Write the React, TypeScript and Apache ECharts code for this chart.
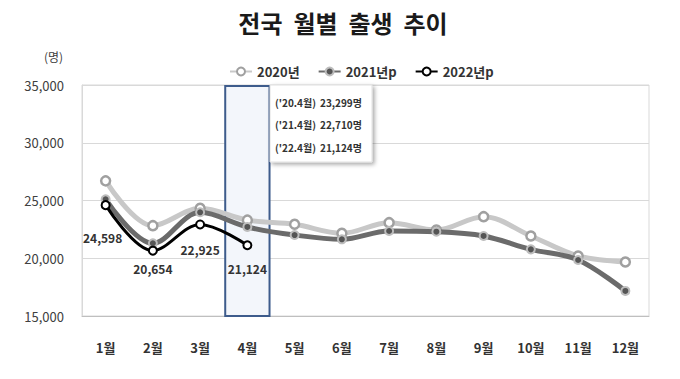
import React, { useEffect, useRef } from "react";
import * as echarts from "echarts";

const months = ["1월", "2월", "3월", "4월", "5월", "6월", "7월", "8월", "9월", "10월", "11월", "12월"];
const births2020 = [26700, 22820, 24320, 23299, 22940, 22160, 23080, 22450, 23600, 21930, 20200, 19680];
const births2021 = [25100, 21290, 23980, 22710, 22010, 21640, 22360, 22300, 21930, 20770, 19850, 17170];
const births2022 = [24598, 20654, 22925, 21124];
const highlight = [null, null, null, 35000, null, null, null, null, null, null, null, null];
const labelOffsets = [[-3, 16], [0, 2], [0, 9], [0, 7]];
const noteLabels = ["('20.4월)", "('21.4월)", "('22.4월)"];
const noteValues = ["23,299명", "22,710명", "21,124명"];

const FONT = "'Noto Sans CJK KR', 'Noto Sans', sans-serif";

export default function App() {
  const ref = useRef<HTMLDivElement>(null);
  useEffect(() => {
    if (!ref.current) return;
    const chart = echarts.init(ref.current, undefined, { renderer: "svg" });
    const noteTexts: any[] = [];
    noteLabels.forEach((l, i) => {
      noteTexts.push({
        type: "text",
        z: 110,
        x: 275,
        y: 102 + i * 22.5,
        style: { text: l, font: `bold 10px ${FONT}`, fill: "#333", verticalAlign: "middle" },
      });
      noteTexts.push({
        type: "text",
        z: 110,
        x: 320,
        y: 102 + i * 22.5,
        style: { text: noteValues[i], font: `bold 10px ${FONT}`, fill: "#333", verticalAlign: "middle" },
      });
    });
    chart.setOption({
      animation: false,
      textStyle: { fontFamily: FONT },
      title: {
        text: "전국  월별  출생  추이",
        left: 338,
        textAlign: "center",
        top: 5,
        textStyle: { fontSize: 24, fontWeight: "bold", color: "#1a1a1a", fontFamily: FONT },
      },
      legend: {
        data: ["2020년", "2021년p", "2022년p"],
        top: 60,
        left: 224,
        itemWidth: 22,
        itemHeight: 10,
        itemGap: 18,
        textStyle: { fontSize: 13, fontWeight: "bold", color: "#333" },
      },
      grid: {
        left: 82,
        right: 31,
        top: 85,
        bottom: 63,
        show: true,
        borderColor: "#d9d9d9",
        borderWidth: 1,
      },
      xAxis: {
        type: "category",
        data: months,
        boundaryGap: true,
        axisLine: { lineStyle: { color: "#bfbfbf" } },
        axisTick: { alignWithLabel: true, length: 4, lineStyle: { color: "#bfbfbf" } },
        axisLabel: { fontSize: 13, color: "#333", margin: 25, fontWeight: "bold" },
      },
      yAxis: {
        type: "value",
        min: 15000,
        max: 35000,
        interval: 5000,
        axisLine: { show: true, lineStyle: { color: "#d9d9d9" } },
        axisTick: { show: false },
        splitLine: { lineStyle: { color: "#d9d9d9" } },
        axisLabel: {
          fontSize: 13,
          color: "#404040",
          margin: 18,
          formatter: (v: number) => v.toLocaleString("en-US"),
        },
      },
      graphic: [
        {
          type: "text",
          left: 44,
          top: 50,
          style: { text: "(명)", font: `12px ${FONT}`, fill: "#404040" },
        },
        {
          type: "rect",
          z: 100,
          shape: { x: 270, y: 85, width: 102, height: 77 },
          style: {
            fill: "#fff",
            stroke: "#e0e0e0",
            lineWidth: 1,
            shadowBlur: 4,
            shadowOffsetX: 2,
            shadowOffsetY: 2,
            shadowColor: "rgba(0,0,0,0.35)",
          },
        },
        ...noteTexts,
      ],
      series: [
        {
          name: "강조",
          type: "bar",
          data: highlight,
          barWidth: "98%",
          z: 1,
          silent: true,
          itemStyle: { color: "#f3f6fb", borderColor: "#3e5c8c", borderWidth: 2 },
        },
        {
          name: "2020년",
          type: "line",
          data: births2020,
          smooth: 0.35,
          z: 3,
          symbol: "circle",
          symbolSize: 9,
          lineStyle: { color: "#c8c8c8", width: 5 },
          itemStyle: { color: "#fff", borderColor: "#a0a0a0", borderWidth: 2.5 },
        },
        {
          name: "2021년p",
          type: "line",
          data: births2021,
          smooth: 0.35,
          z: 4,
          symbol: "circle",
          symbolSize: 8,
          lineStyle: { color: "#6b6b6b", width: 5 },
          itemStyle: { color: "#555", borderColor: "#bdbdbd", borderWidth: 2 },
        },
        {
          name: "2022년p",
          type: "line",
          data: births2022.map((v, i) => ({
            value: v,
            label: { offset: labelOffsets[i] },
          })),
          smooth: 0.35,
          z: 5,
          symbol: "circle",
          symbolSize: 8,
          lineStyle: { color: "#000", width: 3 },
          itemStyle: { color: "#fff", borderColor: "#000", borderWidth: 2 },
          label: {
            show: true,
            position: "bottom",
            fontSize: 12,
            fontWeight: "bold",
            color: "#333",
            formatter: (p: any) => Number(p.value).toLocaleString("en-US"),
          },
        },
      ],
    });
    return () => chart.dispose();
  }, []);
  return (
    <div
      ref={ref}
      style={{ position: "absolute", left: 0, top: 0, width: 680, height: 379 }}
    />
  );
}
